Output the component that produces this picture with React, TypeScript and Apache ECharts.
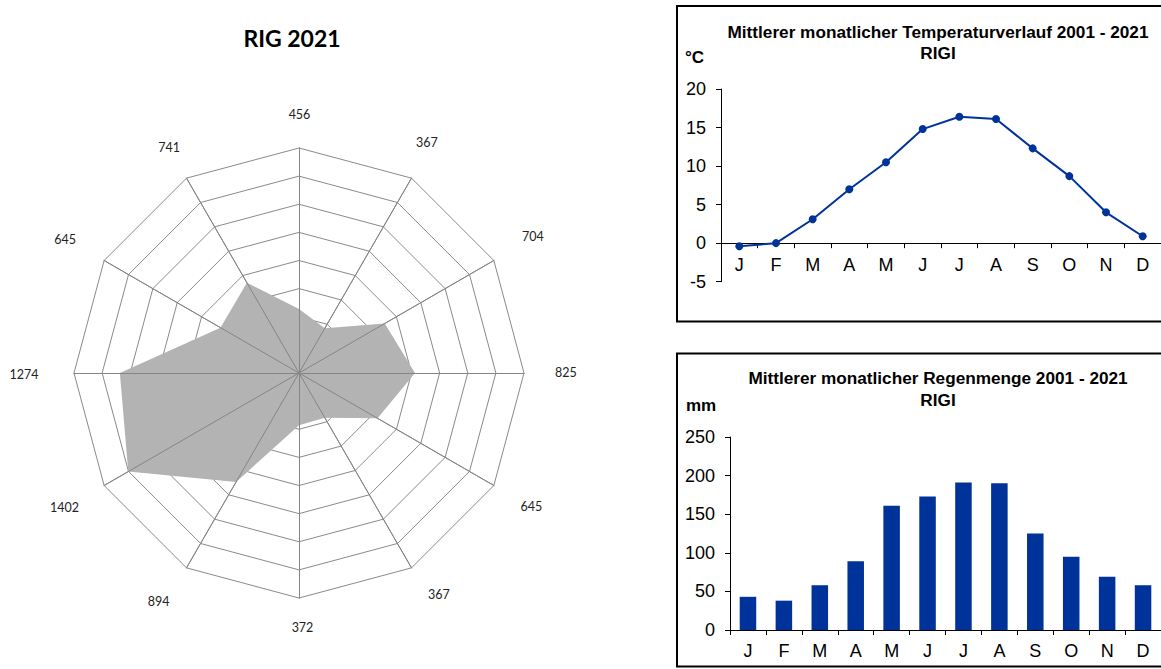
import React, { useEffect, useRef } from "react";
import * as echarts from "echarts";

// Radar (wind rose style): values clockwise from top
const roseValuesClockwise = [456, 367, 704, 825, 645, 367, 372, 894, 1402, 1274, 645, 741];
const roseMax = 1600;
const roseSplits = 8;

const months = ["J", "F", "M", "A", "M", "J", "J", "A", "S", "O", "N", "D"];
const temperature = [-0.4, 0.0, 3.1, 7.0, 10.5, 14.8, 16.4, 16.1, 12.3, 8.7, 4.0, 0.9];
const rainfall = [43, 38, 58, 89, 161, 173, 191, 190, 125, 95, 69, 58];

const tempTitle = "Mittlerer monatlicher Temperaturverlauf 2001 - 2021\nRIGI";
const rainTitle = "Mittlerer monatlicher Regenmenge 2001 - 2021\nRIGI";
const roseTitle = "RIG 2021";

// label padding [top, right, bottom, left] per clockwise spoke (label placement only)
const rosePad: number[][] = [
  [0, 0, 44.5, 1],
  [0, 0, 65, 2.6],
  [0, 0, 43.6, 24.8],
  [0, 0, 2, 27.1],
  [38.4, 0, 0, 23.3],
  [46, 0, 0, 14.6],
  [35.2, 0, 0, 7],
  [60.8, 15.1, 0, 0],
  [39, 21.7, 0, 0],
  [2, 31.5, 0, 0],
  [0, 24.8, 39, 0],
  [0, 4.6, 53.4, 0],
];

export default function App() {
  const ref = useRef<HTMLDivElement>(null);
  useEffect(() => {
    if (!ref.current) return;
    const chart = echarts.init(ref.current, null, { renderer: "svg" });
    const arial = "Liberation Sans, Arial, sans-serif";
    const calibri = "Lato, Carlito, sans-serif";
    // ECharts radar lays indicators counter-clockwise from the start angle
    const cwIdx = roseValuesClockwise.map((_, i) => i);
    const ccwIdx = [cwIdx[0], ...cwIdx.slice(1).reverse()];
    const ccw = ccwIdx.map((i) => roseValuesClockwise[i]);
    const indicator = ccwIdx.map((i) => ({
      name: String(roseValuesClockwise[i]),
      max: roseMax,
      min: 0,
      key: i,
    }));
    const rich: Record<string, any> = {};
    rosePad.forEach((p, i) => {
      rich["p" + i] = {
        padding: p,
        fontSize: 12.5,
        fontFamily: calibri,
        color: "#222",
        lineHeight: 15,
      };
    });
    let counter = 0;
    const gridLine = "#8a8a8a";
    const blue = "#003399";
    const commonX = (gridIndex: number, margin: number) => ({
      type: "category",
      gridIndex,
      data: months,
      boundaryGap: true,
      axisLine: { onZero: true, lineStyle: { color: "#000", width: 1 } },
      axisTick: { show: true, length: 5, inside: false, lineStyle: { color: "#000" } },
      axisLabel: { color: "#000", fontSize: 18, fontFamily: arial, margin },
      splitLine: { show: false },
    });
    const titleStyle = {
      fontSize: 17.2,
      fontWeight: "bold",
      fontFamily: arial,
      color: "#000",
      lineHeight: 21.6,
    };
    chart.setOption({
      animation: false,
      backgroundColor: "#fff",
      title: [
        {
          text: roseTitle,
          left: 292,
          top: 26,
          padding: 0,
          textAlign: "center",
          textStyle: { fontSize: 23, fontWeight: "bold", fontFamily: calibri, color: "#000" },
        },
        {
          text: tempTitle,
          left: 938,
          top: 21,
          padding: 0,
          textAlign: "center",
          textStyle: titleStyle,
        },
        {
          text: rainTitle,
          left: 938,
          top: 367.5,
          padding: 0,
          textAlign: "center",
          textStyle: titleStyle,
        },
      ],
      radar: [
        {
          center: [299, 373],
          radius: 225,
          startAngle: 90,
          splitNumber: roseSplits,
          shape: "polygon",
          indicator,
          nameGap: 4,
          axisName: {
            color: "#222",
            fontSize: 12.5,
            fontFamily: calibri,
            formatter: (name: string, ind: any) => {
              let k = ind && typeof ind.key === "number" ? ind.key : ccwIdx[counter++ % 12];
              return `{p${k}|${name}}`;
            },
            rich,
          },
          splitLine: { lineStyle: { color: gridLine, width: 1 } },
          splitArea: { show: false },
          axisLine: { lineStyle: { color: gridLine, width: 1 } },
          axisTick: { show: false },
          axisLabel: { show: false },
        },
        {
          center: [299, 373],
          radius: 225,
          startAngle: 90,
          splitNumber: roseSplits,
          shape: "polygon",
          indicator,
          z: 5,
          axisName: { show: false },
          splitLine: { show: false },
          splitArea: { show: false },
          axisLine: { lineStyle: { color: "#858585", width: 1 } },
          axisTick: { show: false },
          axisLabel: { show: false },
        },
      ],
      grid: [
        { left: 721, top: 89, width: 440, height: 192.7, containLabel: false },
        { left: 730, top: 437, width: 433.5, height: 193, containLabel: false },
      ],
      xAxis: [commonX(0, -26), commonX(1, 12)],
      yAxis: [
        {
          type: "value",
          gridIndex: 0,
          min: -5,
          max: 20,
          interval: 5,
          axisLine: { show: true, lineStyle: { color: "#000" } },
          axisTick: { show: true, length: 5, lineStyle: { color: "#000" } },
          axisLabel: { color: "#000", fontSize: 18, fontFamily: arial, margin: 15 },
          splitLine: { show: false },
        },
        {
          type: "value",
          gridIndex: 1,
          min: 0,
          max: 250,
          interval: 50,
          axisLine: { show: true, lineStyle: { color: "#000" } },
          axisTick: { show: true, length: 5, lineStyle: { color: "#000" } },
          axisLabel: { color: "#000", fontSize: 18, fontFamily: arial, margin: 15 },
          splitLine: { show: false },
        },
      ],
      graphic: [
        {
          type: "rect",
          shape: { x: 677, y: 6, width: 520, height: 315.5 },
          style: { fill: "none", stroke: "#000", lineWidth: 2 },
          silent: true,
        },
        {
          type: "rect",
          shape: { x: 677, y: 353.5, width: 520, height: 313 },
          style: { fill: "none", stroke: "#000", lineWidth: 2 },
          silent: true,
        },
        {
          type: "text",
          x: 685,
          y: 49,
          style: { text: "°C", font: `bold 17px ${arial}`, fill: "#000" },
        },
        {
          type: "text",
          x: 686,
          y: 397,
          style: { text: "mm", font: `bold 17px ${arial}`, fill: "#000" },
        },
      ],
      series: [
        {
          type: "radar",
          radarIndex: 0,
          z: 3,
          symbol: "none",
          lineStyle: { width: 0, color: "#b3b3b3" },
          areaStyle: { color: "#b3b3b3", opacity: 1 },
          data: [{ value: ccw, name: roseTitle }],
        },
        {
          type: "line",
          xAxisIndex: 0,
          yAxisIndex: 0,
          data: temperature,
          symbol: "circle",
          symbolSize: 8,
          lineStyle: { color: blue, width: 2 },
          itemStyle: { color: blue },
        },
        {
          type: "bar",
          xAxisIndex: 1,
          yAxisIndex: 1,
          data: rainfall,
          barWidth: "46%",
          itemStyle: { color: blue },
        },
      ],
    });
    return () => chart.dispose();
  }, []);
  return (
    <div
      ref={ref}
      style={{ position: "absolute", left: 0, top: 0, width: 1161, height: 669 }}
    />
  );
}
